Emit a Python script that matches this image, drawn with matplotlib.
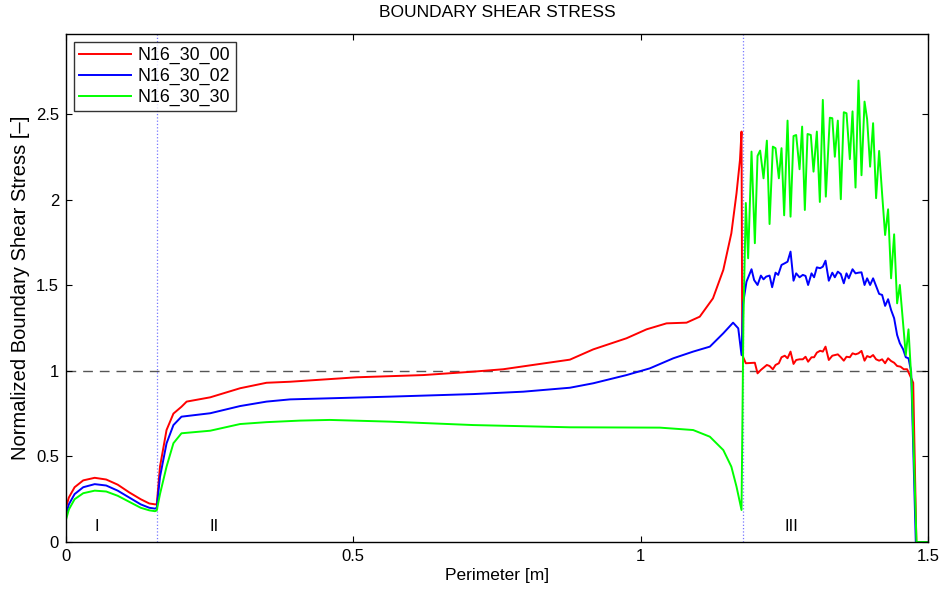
import matplotlib.pyplot as plt

plt.rcParams['font.family'] = ['Liberation Sans', 'DejaVu Sans']

# ---- data ----
x_red = [0, 0.005, 0.015, 0.03, 0.05, 0.07, 0.09, 0.11, 0.13, 0.145, 0.155, 0.158,
         0.1636, 0.175, 0.187, 0.201, 0.21, 0.251, 0.303, 0.349, 0.39, 0.506, 0.622,
         0.709, 0.761, 0.825, 0.877, 0.9176, 0.9756, 1.0104, 1.0452, 1.080, 1.103,
         1.126, 1.144, 1.158, 1.167, 1.173, 1.1757,
         1.1770, 1.1832, 1.1989, 1.2036, 1.2094, 1.2198, 1.2245, 1.2302, 1.2349,
         1.2407, 1.2453, 1.2510, 1.2558, 1.2610, 1.2662, 1.2708, 1.2767, 1.2824,
         1.2871, 1.2916, 1.2975, 1.3020, 1.3068, 1.3126, 1.3172, 1.3219, 1.3276,
         1.3337, 1.3433, 1.3485, 1.3537, 1.3584, 1.3642, 1.3689, 1.3741, 1.3793,
         1.3845, 1.3898, 1.3943, 1.3995, 1.4047, 1.4099, 1.4152, 1.4204, 1.4256,
         1.4308, 1.4360, 1.4413, 1.4465, 1.4524, 1.4581, 1.4639, 1.4686, 1.4745,
         1.4800, 1.4980]
y_red = [0.20, 0.26, 0.32, 0.36, 0.375, 0.365, 0.335, 0.29, 0.25, 0.225, 0.22, 0.22,
         0.44, 0.654, 0.75, 0.79, 0.82, 0.845, 0.898, 0.93, 0.936, 0.962, 0.975,
         0.995, 1.009, 1.04, 1.065, 1.125, 1.19, 1.242, 1.277, 1.281, 1.316,
         1.423, 1.589, 1.803, 2.037, 2.231, 2.397,
         1.092, 1.044, 1.047, 0.985, 1.005, 1.034, 1.028, 1.009, 1.034,
         1.044, 1.079, 1.088, 1.073, 1.112, 1.040, 1.063, 1.067, 1.067,
         1.082, 1.053, 1.079, 1.079, 1.106, 1.117, 1.112, 1.141, 1.063,
         1.088, 1.096, 1.079, 1.059, 1.082, 1.079, 1.102, 1.096, 1.102,
         1.116, 1.059, 1.086, 1.079, 1.092, 1.067, 1.059, 1.067, 1.044,
         1.073, 1.057, 1.047, 1.028, 1.024, 1.009, 1.009, 0.975, 0.93,
         0.0, 0.0]

x_blue = [0, 0.005, 0.015, 0.03, 0.05, 0.07, 0.09, 0.11, 0.13, 0.145, 0.155, 0.158,
          0.1636, 0.175, 0.187, 0.201, 0.251, 0.303, 0.349, 0.39, 0.564, 0.709,
          0.796, 0.877, 0.9176, 0.9756, 1.016, 1.057, 1.0915, 1.1206, 1.144, 1.161,
          1.170, 1.1757,
          1.1785, 1.1843, 1.1931, 1.1976, 1.2036, 1.2094, 1.2140, 1.2186, 1.2245,
          1.2290, 1.2349, 1.2395, 1.2453, 1.2510, 1.2558, 1.2610, 1.2662, 1.2708,
          1.2767, 1.2824, 1.2871, 1.2916, 1.2975, 1.3020, 1.3068, 1.3126, 1.3172,
          1.3219, 1.3276, 1.3337, 1.3381, 1.3433, 1.3485, 1.3537, 1.3584, 1.3624,
          1.3689, 1.3741, 1.3793, 1.3845, 1.3898, 1.3943, 1.3995, 1.4047, 1.4099,
          1.4152, 1.4204, 1.4256, 1.4308, 1.4360, 1.4413, 1.4465, 1.4512, 1.4569,
          1.4616, 1.4663, 1.4709, 1.4790, 1.4980]
y_blue = [0.16, 0.22, 0.28, 0.32, 0.338, 0.33, 0.30, 0.26, 0.22, 0.20, 0.195, 0.20,
          0.38, 0.576, 0.683, 0.732, 0.752, 0.794, 0.82, 0.833, 0.849, 0.864,
          0.878, 0.901, 0.927, 0.975, 1.014, 1.073, 1.112, 1.141, 1.219, 1.281,
          1.248, 1.092,
          1.394, 1.52, 1.593, 1.530, 1.501, 1.556, 1.534, 1.55, 1.556,
          1.488, 1.573, 1.56, 1.618, 1.628, 1.637, 1.696, 1.526, 1.569,
          1.546, 1.56, 1.554, 1.501, 1.569, 1.546, 1.604, 1.599, 1.608,
          1.643, 1.526, 1.573, 1.546, 1.579, 1.565, 1.511, 1.569, 1.540,
          1.593, 1.569, 1.573, 1.575, 1.501, 1.540, 1.501, 1.540, 1.495,
          1.449, 1.443, 1.379, 1.418, 1.355, 1.307, 1.209, 1.161, 1.126,
          1.079, 1.073, 0.995, 0.0, 0.0]

x_green = [0, 0.005, 0.015, 0.03, 0.05, 0.07, 0.09, 0.11, 0.13, 0.145, 0.155, 0.158,
           0.1636, 0.175, 0.187, 0.201, 0.251, 0.303, 0.349, 0.407, 0.459, 0.564,
           0.709, 0.877, 1.0336, 1.0915, 1.1206, 1.144, 1.158, 1.167, 1.1757,
           1.1790, 1.1832, 1.1872, 1.1931, 1.1989, 1.2036, 1.2081, 1.2140, 1.2198,
           1.2245, 1.2302, 1.2349, 1.2407, 1.2453, 1.2499, 1.2558, 1.2610, 1.2662,
           1.2708, 1.2767, 1.2812, 1.2859, 1.2906, 1.2963, 1.3010, 1.3068, 1.3120,
           1.3172, 1.3224, 1.3294, 1.3337, 1.3381, 1.3433, 1.3485, 1.3537, 1.3584,
           1.3642, 1.3689, 1.3741, 1.3793, 1.3845, 1.3898, 1.3943, 1.3995, 1.4047,
           1.4099, 1.4152, 1.4204, 1.4256, 1.4308, 1.4360, 1.4413, 1.4465, 1.4512,
           1.4569, 1.4616, 1.4663, 1.4720, 1.4802, 1.4980]
y_green = [0.13, 0.19, 0.25, 0.285, 0.30, 0.295, 0.27, 0.235, 0.20, 0.185, 0.18, 0.185,
           0.28, 0.44, 0.577, 0.635, 0.65, 0.689, 0.70, 0.709, 0.713, 0.703,
           0.683, 0.67, 0.668, 0.654, 0.615, 0.537, 0.44, 0.323, 0.187,
           1.30, 1.98, 1.657, 2.28, 1.745, 2.255, 2.286, 2.124, 2.344,
           1.857, 2.309, 2.30, 2.124, 2.30, 1.908, 2.461, 1.90, 2.371,
           2.377, 2.177, 2.426, 1.939, 2.383, 2.377, 2.163, 2.397, 1.986,
           2.582, 2.017, 2.478, 2.475, 2.25, 2.461, 2.002, 2.51, 2.504,
           2.236, 2.515, 2.07, 2.695, 2.142, 2.572, 2.469, 2.192, 2.446,
           2.008, 2.284, 2.033, 1.793, 1.943, 1.540, 1.797, 1.394, 1.501,
           1.277, 1.092, 1.242, 0.907, 0.0, 0.0]

series_names = ['N16_30_00', 'N16_30_02', 'N16_30_30']
zone_bounds = [0.158, 1.178]
zone_labels = ['I', 'II', 'III']
zone_label_x = [0.054, 0.257, 1.262]

# ---- figure ----
fig = plt.figure(figsize=(9.44, 5.97), dpi=100)
ax = fig.add_axes([0.0699, 0.0921, 0.913, 0.851])

ax.axhline(1.0, color='#555555', lw=1.0, dashes=(7, 5), zorder=1)
for xb in zone_bounds:
    ax.axvline(xb, color='#7777ff', lw=0.9, ls=':', zorder=1)

ax.plot(x_red, y_red, color='#ff0000', lw=1.4, label=series_names[0])
ax.plot(x_blue, y_blue, color='#0000ff', lw=1.4, label=series_names[1])
ax.plot(x_green, y_green, color='#00ff00', lw=1.4, label=series_names[2])

for lab, xl in zip(zone_labels, zone_label_x):
    ax.text(xl, 0.09, lab, ha='center', va='center', fontsize=12)

ax.set_xlim(0, 1.5)
ax.set_ylim(0, 2.967)
ax.set_xticks([0, 0.5, 1, 1.5])
ax.set_xticklabels(['0', '0.5', '1', '1.5'])
ax.set_yticks([0, 0.5, 1, 1.5, 2, 2.5])
ax.set_yticklabels(['0', '0.5', '1', '1.5', '2', '2.5'])
ax.tick_params(direction='in', top=True, right=True, length=4, labelsize=12, pad=5)
for sp in ax.spines.values():
    sp.set_linewidth(1.0)

ax.set_title('BOUNDARY SHEAR STRESS', fontsize=12.5, pad=12)
ax.set_xlabel('Perimeter [m]', fontsize=12.5, labelpad=3)
ax.set_ylabel('Normalized Boundary Shear Stress [\u2013]', fontsize=14.5, labelpad=4)

leg = ax.legend(loc='upper left', fontsize=12.8, frameon=True, fancybox=False,
                edgecolor='black', handlelength=2.9, borderaxespad=0.45,
                labelspacing=0.2, borderpad=0.3, handletextpad=0.4)
leg.get_frame().set_linewidth(1.0)

fig.savefig('out.png', dpi=100)
